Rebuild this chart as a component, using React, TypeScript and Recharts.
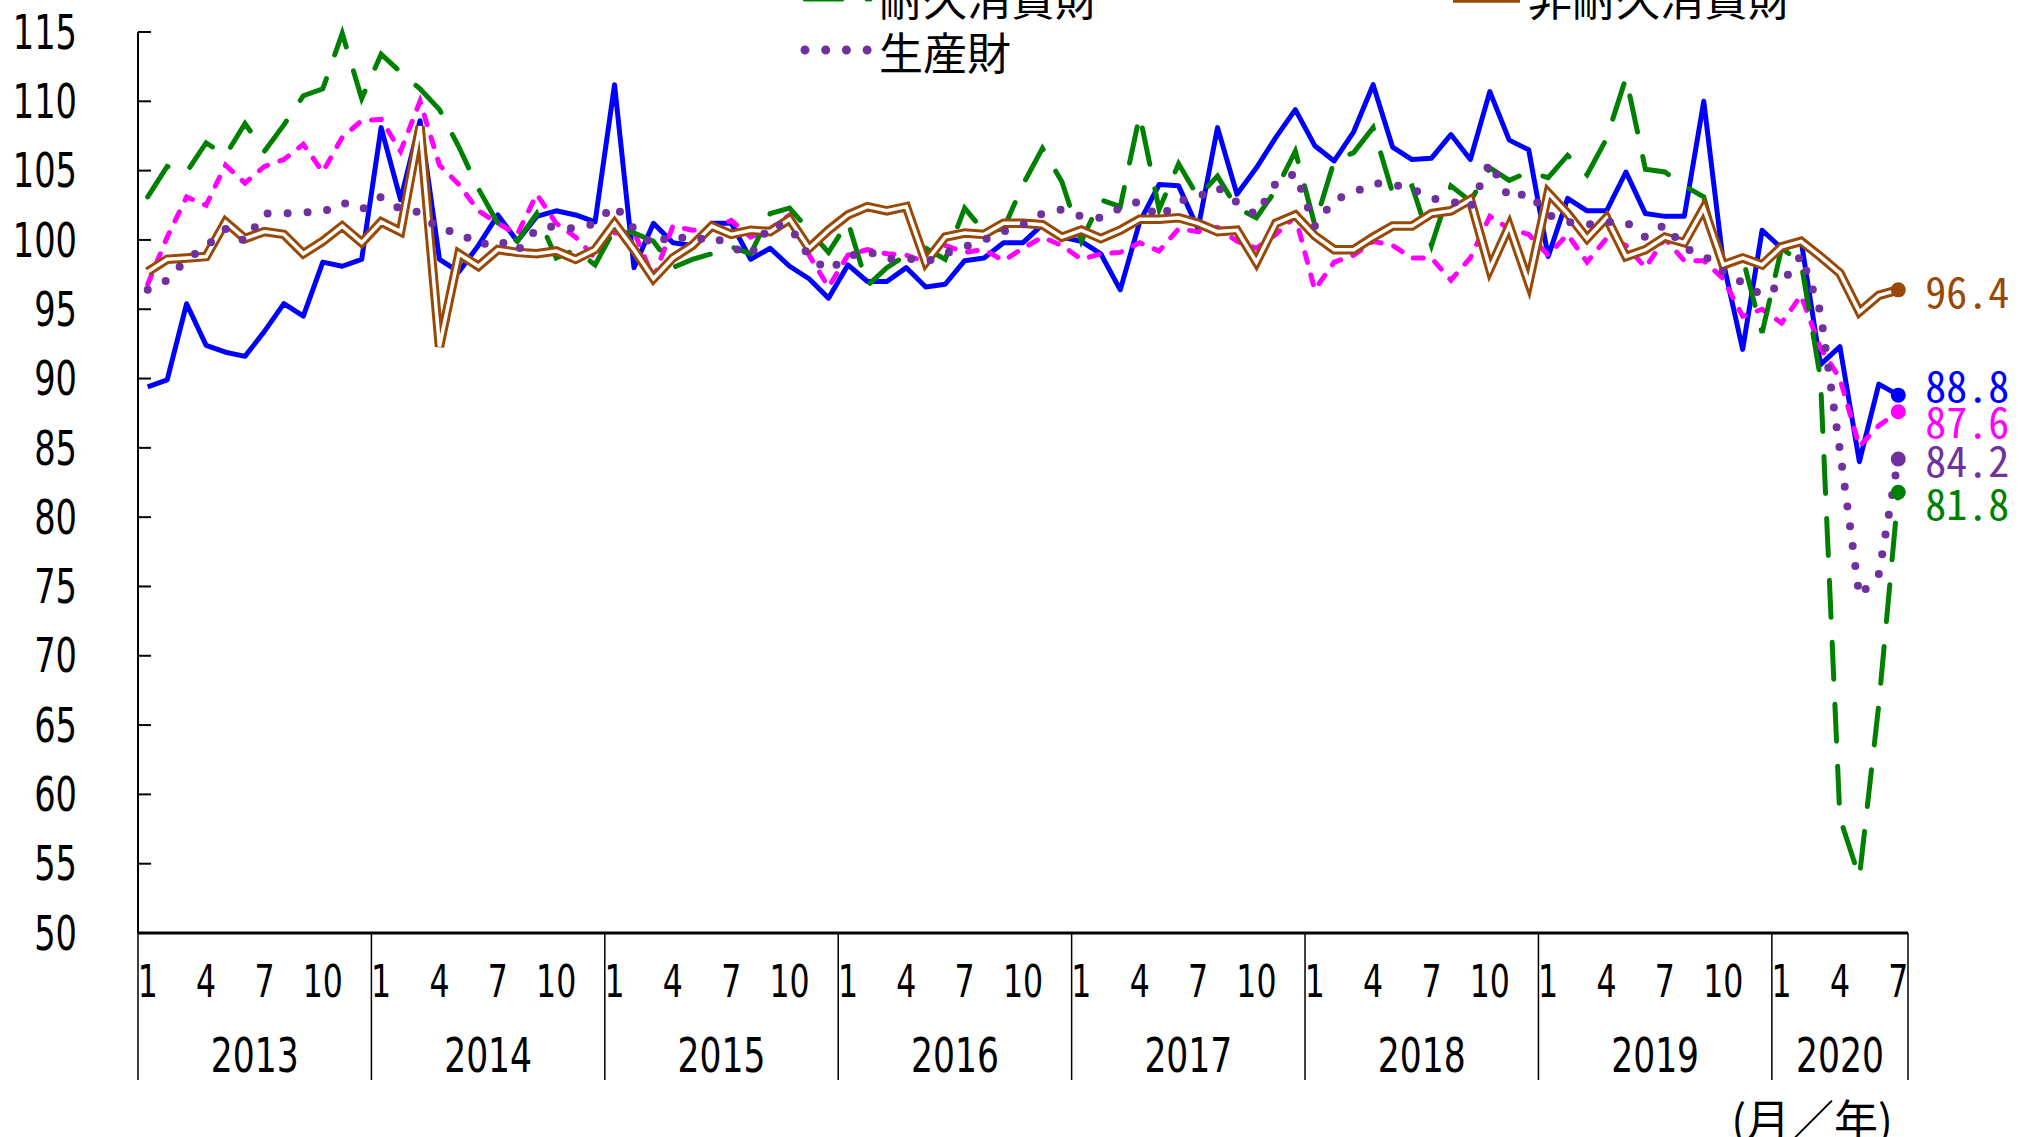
import React from 'react'
import { LineChart, Line, XAxis, YAxis } from 'recharts'

// layout of the page (same size as the window)
const W = 2019
const H = 1137
const PLOT_LEFT = 138
const PLOT_RIGHT = 1908
const PLOT_TOP = 32
const PLOT_BOTTOM = 933

const CONDENSED = "'DejaVu Sans Condensed', 'Liberation Sans', sans-serif"
const JP = "'Noto Sans CJK JP', sans-serif"
const MONO = "'Noto Sans Mono CJK JP', 'Noto Sans CJK JP', monospace"

const YEARS = [2013, 2014, 2015, 2016, 2017, 2018, 2019, 2020]
const LAST_YEAR_MONTHS = 7
const MONTH_TICKS = [1, 4, 7, 10]
const Y_TICKS = [50, 55, 60, 65, 70, 75, 80, 85, 90, 95, 100, 105, 110, 115]

// 資本財
const CAPITAL = [
  89.4, 89.9, 95.4, 92.4, 91.9, 91.6, 93.4, 95.4, 94.5, 98.4, 98.1, 98.6,
  108.1, 102.9, 108.6, 98.6, 97.7, 99.6, 101.8, 99.9, 101.7, 102.1, 101.8, 101.3,
  111.2, 98.0, 101.2, 99.8, 99.6, 101.2, 101.2, 98.6, 99.4, 98.1, 97.2, 95.8,
  98.2, 97.0, 97.0, 98.0, 96.6, 96.8, 98.5, 98.7, 99.8, 99.8, 101.1, 100.2,
  99.9, 99.0, 96.4, 101.3, 104.0, 103.9, 100.8, 108.1, 103.3, 105.2, 107.4, 109.4,
  106.8, 105.7, 107.8, 111.2, 106.7, 105.8, 105.9, 107.6, 105.8, 110.7, 107.2, 106.5,
  98.8, 103.0, 102.1, 102.1, 104.9, 101.9, 101.7, 101.7, 110.0, 98.4, 92.1, 100.7,
  99.4, 100.0, 91.0, 92.3, 84.0, 89.6, 88.8,
]

// 建設財
const CONSTRUCTION = [
  96.8, 100.2, 103.1, 102.5, 105.4, 104.1, 105.3, 105.8, 106.9, 104.9, 107.4, 108.6,
  108.7, 106.4, 110.0, 105.4, 104.0, 102.1, 101.2, 100.4, 103.3, 101.2, 100.2, 98.7,
  100.5, 100.6, 97.2, 101.0, 100.7, 100.8, 101.4, 100.2, 100.8, 101.8, 98.9, 96.6,
  98.9, 99.3, 99.0, 98.9, 98.4, 99.6, 99.1, 99.3, 98.5, 99.4, 100.2, 99.6,
  98.6, 99.0, 99.1, 99.8, 99.2, 100.8, 100.6, 100.9, 99.9, 99.4, 100.4, 101.7,
  96.4, 98.4, 98.9, 99.9, 99.6, 98.7, 98.7, 97.1, 98.7, 101.7, 100.8, 100.4,
  98.9, 100.4, 98.4, 100.1, 99.6, 98.0, 100.1, 98.5, 98.5, 97.2, 94.5, 95.0,
  94.0, 96.0, 92.2, 90.0, 85.1, 86.6, 87.6,
]

// 耐久消費財
const DURABLE = [
  103.1, 105.3, 104.9, 107.0, 106.1, 108.4, 106.4, 108.3, 110.4, 110.9, 114.9, 110.2,
  113.4, 112.1, 110.9, 109.4, 106.7, 103.7, 101.2, 99.9, 101.9, 98.7, 99.3, 98.2,
  100.8, 100.5, 99.9, 98.0, 98.6, 99.0, 99.5, 99.0, 101.9, 102.3, 100.7, 99.1,
  101.3, 96.7, 98.0, 98.9, 99.4, 98.6, 102.3, 100.6, 100.8, 104.0, 106.6, 104.2,
  99.9, 102.9, 102.4, 109.0, 102.2, 105.5, 103.1, 104.6, 102.3, 101.6, 103.6, 106.4,
  101.1, 105.7, 106.3, 108.1, 103.4, 103.9, 99.6, 103.9, 102.8, 105.2, 104.3, 104.9,
  104.5, 106.1, 104.7, 107.3, 111.7, 105.1, 104.9, 103.9, 103.1, 98.0, 98.7, 93.3,
  99.4, 98.4, 90.0, 58.3, 54.0, 66.5, 81.8,
]

// 非耐久消費財
const NONDURABLE = [
  97.7, 98.6, 98.7, 98.8, 101.3, 100.1, 100.6, 100.4, 99.0, 99.9, 101.0, 99.8,
  101.3, 100.6, 108.2, 92.3, 99.0, 98.1, 99.3, 99.1, 99.0, 99.2, 98.6, 99.3,
  101.2, 99.3, 97.2, 98.7, 99.6, 101.0, 100.4, 100.7, 100.6, 101.5, 99.4, 100.7,
  101.8, 102.4, 102.1, 102.4, 98.4, 100.2, 100.5, 100.4, 101.2, 101.2, 101.1, 100.2,
  100.7, 100.1, 100.7, 101.5, 101.5, 101.6, 101.2, 100.6, 100.7, 98.4, 101.2, 101.8,
  100.3, 99.3, 99.3, 100.2, 101.0, 101.0, 101.9, 102.1, 102.9, 97.9, 101.0, 96.9,
  103.4, 101.9, 100.1, 101.6, 98.8, 99.3, 100.2, 99.8, 102.3, 98.2, 98.7, 98.2,
  99.5, 99.9, 98.8, 97.6, 94.8, 96.0, 96.4,
]

// 生産財
const PRODUCER = [
  96.4, 97.1, 98.6, 99.5, 100.8, 99.9, 101.9, 101.9, 102.0, 102.0, 102.7, 102.2,
  103.1, 102.2, 102.0, 100.7, 100.6, 99.6, 100.0, 99.2, 100.8, 101.0, 100.8, 101.2,
  102.5, 100.8, 99.6, 100.4, 99.9, 100.3, 99.5, 98.9, 101.1, 101.0, 98.8, 97.8,
  98.8, 99.2, 98.6, 98.7, 98.4, 99.0, 99.5, 100.0, 100.6, 101.1, 101.9, 102.2,
  101.7, 101.6, 102.3, 102.8, 101.6, 102.8, 103.1, 103.8, 102.7, 101.8, 104.1, 104.8,
  101.0, 102.9, 103.4, 104.1, 104.0, 103.7, 103.0, 102.8, 102.3, 105.6, 103.0, 103.4,
  101.8, 101.3, 101.1, 101.3, 101.3, 100.2, 101.1, 99.4, 98.9, 97.7, 96.9, 96.0,
  96.8, 98.9, 94.8, 84.8, 74.3, 75.9, 84.2,
]

const BLUE = '#0000ff'
const MAGENTA = '#ff00ff'
const GREEN = '#008000'
const BROWN = '#984807'
const PURPLE = '#7030a0'

const PERIODS = YEARS.flatMap((year, yi) => {
  const n = yi === YEARS.length - 1 ? LAST_YEAR_MONTHS : 12
  return Array.from({ length: n }, (_, m) => ({ year, month: m + 1, count: n }))
})

const STEP = (PLOT_RIGHT - PLOT_LEFT) / PERIODS.length

const data = PERIODS.map((p, i) => ({
  label: `${p.year}/${p.month}`,
  capital: CAPITAL[i],
  construction: CONSTRUCTION[i],
  durable: DURABLE[i],
  nondurable: NONDURABLE[i],
  producer: PRODUCER[i],
}))

// condensed digits like the original's narrow gothic face
const NarrowText = ({ x, y, size, sx, anchor, children }: any) => (
  <text
    transform={`translate(${x},${y}) scale(${sx},1)`}
    textAnchor={anchor}
    dominantBaseline="central"
    fontSize={size}
    fontFamily={CONDENSED}
    fill="#000"
  >
    {children}
  </text>
)

const endDot = (color: string, values: number[], dy: number) => (props: any) => {
  const { cx, cy, index } = props
  if (index !== values.length - 1) return <g key={`d-${index}`} />
  return (
    <g key={`d-${index}`}>
      <circle cx={cx} cy={cy} r={7.5} fill={color} />
      <text x={cx + 27} y={cy + dy} fill={color} fontSize={42} fontFamily={MONO} dominantBaseline="central">
        {values[index].toFixed(1)}
      </text>
    </g>
  )
}

const YTick = (props: any) => {
  const { x, y, payload } = props
  return (
    <g>
      <line x1={x} x2={x + 13} y1={y} y2={y} stroke="#000" strokeWidth={2} />
      <NarrowText x={x - 61} y={y} size={48} sx={0.78} anchor="end">
        {payload.value}
      </NarrowText>
    </g>
  )
}

const XTick = (props: any) => {
  const { x, y, index } = props
  const p = PERIODS[index]
  if (!p) return <g />
  const last = index === PERIODS.length - 1
  return (
    <g>
      {MONTH_TICKS.includes(p.month) && (
        <NarrowText x={x} y={y + 49} size={45} sx={0.78} anchor="middle">
          {p.month}
        </NarrowText>
      )}
      {p.month === 1 && (
        <>
          <line x1={x - STEP / 2} x2={x - STEP / 2} y1={y} y2={y + 147} stroke="#000" strokeWidth={1.5} />
          <NarrowText x={x + ((p.count - 1) / 2) * STEP} y={y + 122} size={48} sx={0.8} anchor="middle">
            {p.year}
          </NarrowText>
        </>
      )}
      {last && <line x1={x + STEP / 2} x2={x + STEP / 2} y1={y} y2={y + 147} stroke="#000" strokeWidth={1.5} />}
    </g>
  )
}

export default function App() {
  return (
    <div style={{ position: 'absolute', left: 0, top: 0, width: W, height: H, overflow: 'hidden', background: '#fff' }}>
      <LineChart
        width={W}
        height={H}
        data={data}
        margin={{ top: PLOT_TOP, right: W - PLOT_RIGHT, bottom: 0, left: 0 }}
      >
        <XAxis
          dataKey="label"
          type="category"
          interval={0}
          height={H - PLOT_BOTTOM}
          padding={{ left: STEP / 2, right: STEP / 2 }}
          tickSize={0}
          tickMargin={0}
          tickLine={false}
          axisLine={{ stroke: '#000', strokeWidth: 3 }}
          tick={<XTick />}
        />
        <YAxis
          type="number"
          domain={[50, 115]}
          ticks={Y_TICKS}
          interval={0}
          width={PLOT_LEFT}
          tickSize={0}
          tickMargin={0}
          tickLine={false}
          axisLine={{ stroke: '#000', strokeWidth: 2 }}
          tick={<YTick />}
        />
        <Line
          dataKey="capital"
          stroke={BLUE}
          strokeWidth={5}
          strokeLinejoin="round"
          dot={endDot(BLUE, CAPITAL, -12)}
          activeDot={false}
          isAnimationActive={false}
        />
        <Line
          dataKey="construction"
          stroke={MAGENTA}
          strokeWidth={5}
          strokeDasharray="10 13"
          strokeLinecap="round"
          dot={endDot(MAGENTA, CONSTRUCTION, 8)}
          activeDot={false}
          isAnimationActive={false}
        />
        <Line
          dataKey="durable"
          stroke={GREEN}
          strokeWidth={5}
          strokeDasharray="37 25"
          strokeLinecap="round"
          dot={endDot(GREEN, DURABLE, 9)}
          activeDot={false}
          isAnimationActive={false}
        />
        <Line
          dataKey="nondurable"
          stroke={BROWN}
          strokeWidth={9.5}
          dot={false}
          activeDot={false}
          isAnimationActive={false}
        />
        <Line
          dataKey="nondurable"
          stroke="#fff"
          strokeWidth={3.5}
          legendType="none"
          dot={endDot(BROWN, NONDURABLE, 0)}
          activeDot={false}
          isAnimationActive={false}
        />
        <Line
          dataKey="producer"
          stroke={PURPLE}
          strokeWidth={8}
          strokeDasharray="0 20"
          strokeLinecap="round"
          dot={endDot(PURPLE, PRODUCER, 0)}
          activeDot={false}
          isAnimationActive={false}
        />
      </LineChart>

      {/* legend (top rows are cut off by the page edge) and unit label */}
      <svg width={W} height={H} style={{ position: 'absolute', left: 0, top: 0, pointerEvents: 'none' }}>
        <line x1={805} x2={870} y1={-1} y2={-1} stroke={GREEN} strokeWidth={5} strokeDasharray="37 25" strokeLinecap="round" />
        <text x={879} y={-3} fontSize={44} fontFamily={JP} dominantBaseline="central" fill="#000">耐久消費財</text>
        <line x1={1453} x2={1520} y1={-2} y2={-2} stroke={BROWN} strokeWidth={9.5} />
        <line x1={1453} x2={1520} y1={-2} y2={-2} stroke="#fff" strokeWidth={3.5} />
        <text x={1528} y={-3} fontSize={44} fontFamily={JP} dominantBaseline="central" fill="#000">非耐久消費財</text>
        <line x1={805} x2={870} y1={50} y2={50} stroke={PURPLE} strokeWidth={9} strokeDasharray="0 20.7" strokeLinecap="round" />
        <text x={879} y={51} fontSize={44} fontFamily={JP} dominantBaseline="central" fill="#000">生産財</text>
        <text x={1893} y={1118} textAnchor="end" fontSize={44} fontFamily={JP} dominantBaseline="central" fill="#000">(月／年)</text>
      </svg>
    </div>
  )
}
